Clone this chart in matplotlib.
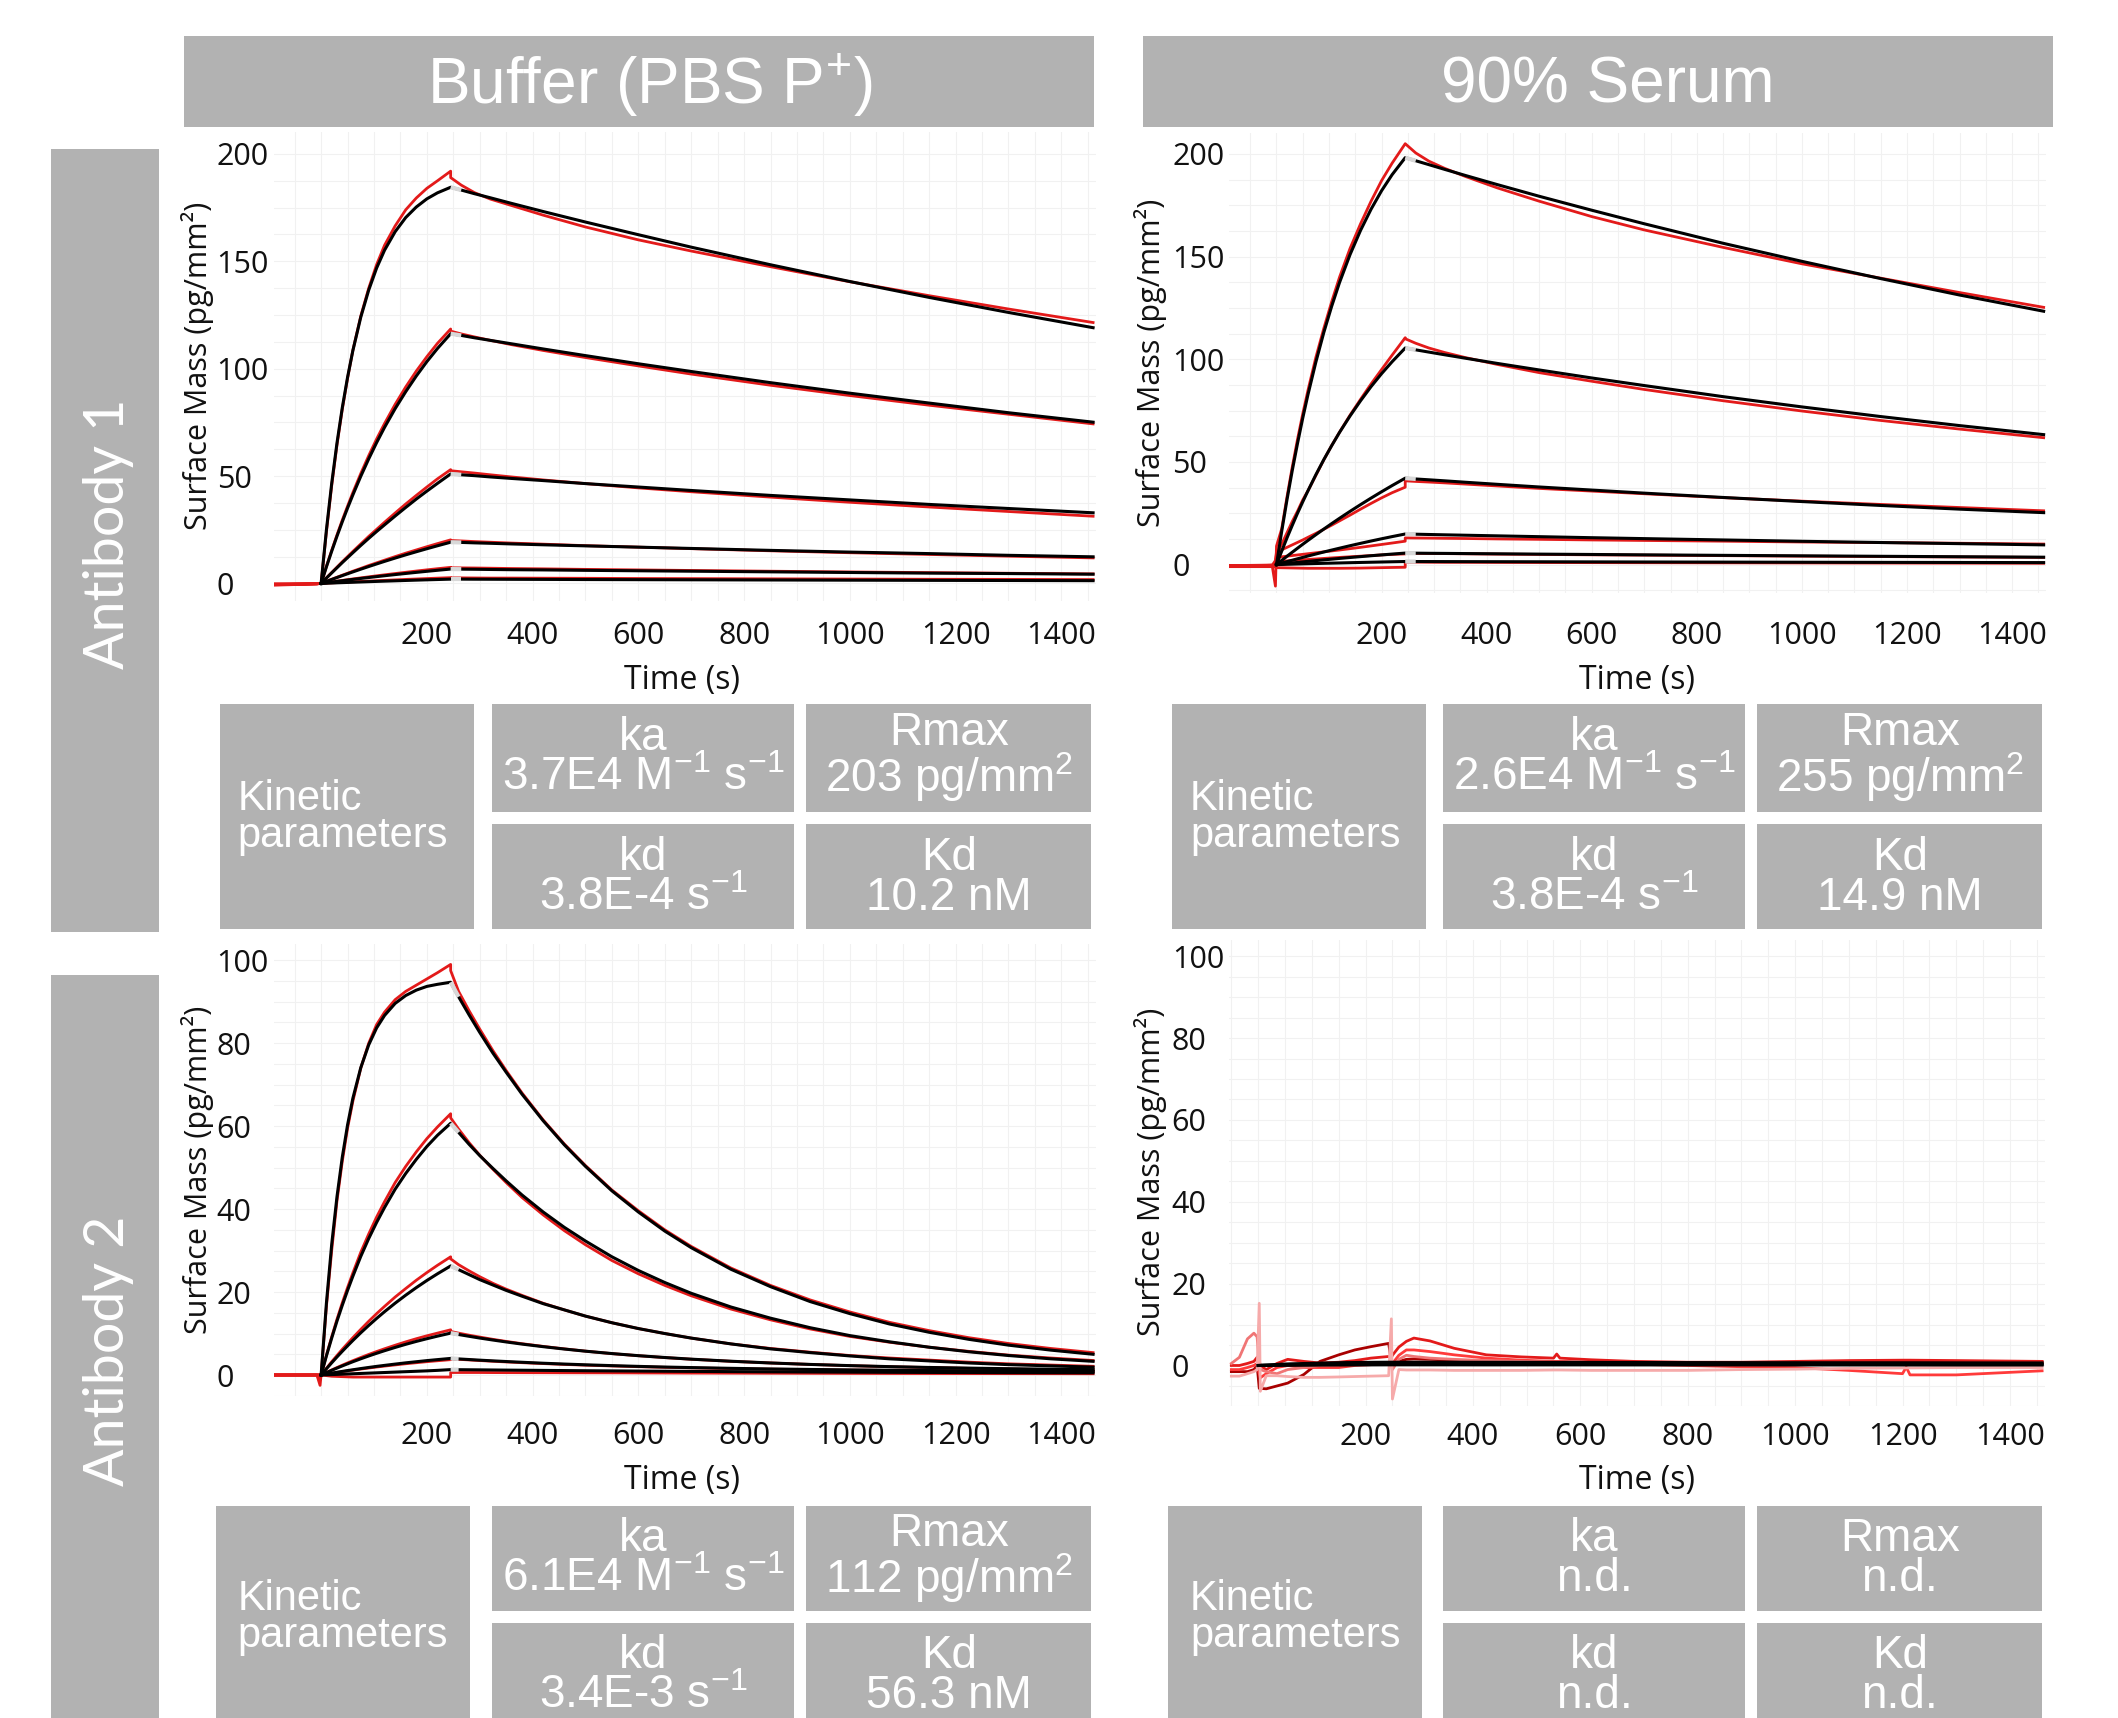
import matplotlib
matplotlib.use("Agg")
import matplotlib.pyplot as plt
from matplotlib.patches import Rectangle
from matplotlib.ticker import MultipleLocator

plt.rcParams["mathtext.fontset"] = "custom"
plt.rcParams["mathtext.rm"] = "Liberation Sans"
plt.rcParams["mathtext.default"] = "regular"

# ---------------- data ----------------
T_BASE = [-90, -60, -30, -8, -2]
T_ASSOC = [0, 10, 20, 30, 40, 50, 60, 75, 90, 105, 120, 140, 160, 180, 200, 220, 245]
T_DISS = [245, 265, 290, 320, 360, 420, 500, 600, 700, 850, 1000, 1150, 1300, 1460]
T_DISS_BL = [245, 260, 280, 300, 325, 350, 380, 420, 460, 500, 550, 600, 650, 700,
             775, 850, 925, 1000, 1075, 1150, 1225, 1300, 1380, 1460]

# Antibody 1, buffer
tl_fit_assoc = [
    [0, 24.9, 46.6, 65.4, 81.8, 96.0, 108.4, 124.0, 136.6, 146.9, 155.2, 163.8, 170.4, 175.3, 179.1, 181.9, 184.5],
    [0, 7.7, 15.0, 22.0, 28.7, 35.1, 41.2, 49.9, 58.0, 65.6, 72.7, 81.4, 89.3, 96.6, 103.3, 109.4, 116.3],
    [0, 2.5, 4.9, 7.3, 9.7, 12.0, 14.3, 17.7, 21.0, 24.2, 27.3, 31.4, 35.4, 39.3, 43.0, 46.6, 51.0],
    [0, 0.93, 1.85, 2.75, 3.63, 4.51, 5.37, 6.64, 7.88, 9.09, 10.28, 11.82, 13.32, 14.76, 16.17, 17.54, 19.2],
    [0, 0.32, 0.65, 0.96, 1.27, 1.58, 1.88, 2.32, 2.75, 3.18, 3.59, 4.13, 4.65, 5.16, 5.65, 6.13, 6.7],
    [0, 0.1, 0.19, 0.29, 0.38, 0.47, 0.56, 0.69, 0.82, 0.95, 1.07, 1.23, 1.39, 1.54, 1.69, 1.83, 2.0],
]
tl_fit_diss = [
    [184.5, 183.2, 181.5, 179.6, 177.0, 173.2, 168.3, 162.4, 156.6, 148.4, 140.6, 133.2, 126.2, 119.1],
    [116.3, 115.5, 114.4, 113.2, 111.6, 109.2, 106.1, 102.3, 98.7, 93.5, 88.6, 84.0, 79.5, 75.1],
    [51.0, 50.6, 50.2, 49.6, 48.9, 47.9, 46.5, 44.9, 43.3, 41.0, 38.9, 36.8, 34.9, 32.9],
    [19.2, 19.1, 18.9, 18.7, 18.4, 18.0, 17.5, 16.9, 16.3, 15.4, 14.6, 13.9, 13.1, 12.4],
    [6.7, 6.65, 6.6, 6.5, 6.4, 6.3, 6.1, 5.9, 5.7, 5.4, 5.1, 4.8, 4.6, 4.3],
    [2.0, 2.0, 1.97, 1.95, 1.92, 1.88, 1.82, 1.76, 1.7, 1.61, 1.52, 1.44, 1.37, 1.29],
]
tl_data_base = [
    [-0.8, -0.6, -0.4, -0.2, 0.0],
    [-0.6, -0.5, -0.4, -0.2, 0.0],
    [-0.5, -0.4, -0.3, -0.2, 0.0],
    [-0.4, -0.3, -0.2, -0.1, 0.0],
    [-0.3, -0.3, -0.2, -0.1, 0.0],
    [-0.2, -0.2, -0.1, 0.0, 0.0],
]
tl_data_assoc = [
    [0, 24, 45.5, 64.5, 81, 95.5, 108.5, 124.5, 137.5, 148.5, 157.5, 166.5, 174, 179.5, 184, 187.5, 192],
    [0, 7.9, 15.4, 22.6, 29.5, 36, 42.3, 51.2, 59.5, 67.3, 74.5, 83.4, 91.5, 98.9, 105.6, 111.8, 118.5],
    [0, 2.6, 5.1, 7.6, 10.1, 12.5, 14.9, 18.4, 21.9, 25.2, 28.5, 32.8, 37.0, 41.0, 44.9, 48.7, 53.0],
    [0, 1.0, 1.95, 2.9, 3.85, 4.75, 5.7, 7.0, 8.35, 9.6, 10.85, 12.5, 14.1, 15.6, 17.1, 18.55, 20.3],
    [0, 0.36, 0.72, 1.08, 1.42, 1.77, 2.1, 2.6, 3.08, 3.56, 4.02, 4.62, 5.2, 5.78, 6.33, 6.87, 7.5],
    [0, 0.13, 0.26, 0.39, 0.51, 0.64, 0.76, 0.93, 1.1, 1.28, 1.44, 1.66, 1.88, 2.08, 2.28, 2.47, 2.7],
]
tl_data_diss = [
    [189, 185.5, 182, 179, 176, 171.5, 166, 160, 154.8, 147.5, 140.5, 134, 127.8, 121.5],
    [117.5, 116.2, 114.8, 113.2, 111.2, 108.5, 105.2, 101.3, 97.5, 92.3, 87.5, 83, 78.8, 74.3],
    [52.5, 52, 51.4, 50.6, 49.6, 48.2, 46.5, 44.5, 42.7, 40.2, 37.8, 35.6, 33.5, 31.3],
    [20, 19.8, 19.5, 19.2, 18.8, 18.3, 17.6, 16.9, 16.2, 15.2, 14.3, 13.5, 12.7, 11.9],
    [7.3, 7.25, 7.2, 7.1, 6.95, 6.8, 6.55, 6.3, 6.05, 5.7, 5.35, 5.05, 4.75, 4.45],
    [2.6, 2.6, 2.55, 2.5, 2.5, 2.45, 2.4, 2.3, 2.25, 2.15, 2.05, 1.95, 1.9, 1.8],
]

# Antibody 1, 90% serum
tr_fit_assoc = [
    [0, 16.3, 31.6, 45.8, 59.0, 71.4, 82.9, 98.7, 113.0, 125.8, 137.4, 151.0, 162.8, 173.1, 182.1, 189.9, 198.2],
    [0, 6.6, 13.0, 19.1, 25.0, 30.6, 36.0, 43.8, 51.1, 57.9, 64.4, 72.4, 79.8, 86.7, 93.0, 98.8, 105.5],
    [0, 2.04, 4.05, 6.02, 7.97, 9.9, 11.79, 14.57, 17.29, 19.95, 22.55, 25.93, 29.21, 32.39, 35.48, 38.48, 42.1],
    [0, 0.72, 1.44, 2.13, 2.82, 3.51, 4.18, 5.16, 6.13, 7.07, 7.99, 9.19, 10.35, 11.48, 12.57, 13.63, 14.9],
    [0, 0.27, 0.54, 0.8, 1.06, 1.32, 1.57, 1.94, 2.3, 2.65, 3.0, 3.45, 3.88, 4.31, 4.72, 5.12, 5.6],
    [0, 0.07, 0.14, 0.21, 0.28, 0.35, 0.42, 0.52, 0.62, 0.71, 0.8, 0.92, 1.04, 1.15, 1.26, 1.37, 1.5],
]
tr_fit_diss = [
    [198.2, 196.7, 194.8, 192.5, 189.5, 185.1, 179.4, 172.6, 166.0, 156.5, 147.7, 139.3, 131.3, 123.4],
    [105.5, 104.6, 103.5, 102.2, 100.5, 98.0, 94.8, 90.9, 87.2, 81.8, 76.8, 72.1, 67.7, 63.3],
    [42.1, 41.7, 41.3, 40.8, 40.1, 39.1, 37.8, 36.3, 34.8, 32.7, 30.7, 28.8, 27.0, 25.3],
    [14.9, 14.8, 14.66, 14.5, 14.3, 14.0, 13.6, 13.1, 12.65, 12.0, 11.35, 10.75, 10.2, 9.6],
    [5.6, 5.56, 5.5, 5.45, 5.37, 5.26, 5.1, 4.93, 4.75, 4.5, 4.27, 4.04, 3.83, 3.6],
    [1.5, 1.49, 1.48, 1.46, 1.44, 1.41, 1.37, 1.32, 1.27, 1.21, 1.14, 1.08, 1.03, 0.97],
]
tr_data_base = [
    [-0.5, -0.5, -0.5, -0.8, -10.5],
    [-0.8, -0.8, -0.6, -0.5, 0.0],
    [-0.6, -0.6, -0.5, -0.3, 2.0],
    [-0.4, -0.4, -0.3, -0.2, 1.0],
    [-0.7, -0.7, -0.6, -0.5, 0.0],
    [-1.0, -1.0, -1.0, -1.0, -1.2],
]
tr_data_assoc = [
    [9, 17.5, 33, 47.5, 61, 73.5, 85, 101, 115, 128, 140, 154, 166, 177, 187, 195.5, 205],
    [5, 10, 15.5, 21, 26, 31.5, 36, 43.5, 51, 58, 64.5, 72.8, 80.5, 88, 95, 102, 110.5],
    [6, 7.2, 8.4, 9.6, 10.8, 12.0, 13.3, 15.2, 17.2, 19.2, 21.3, 24.1, 27, 29.8, 32.5, 35, 37.7],
    [3.5, 3.8, 4.1, 4.4, 4.7, 5.0, 5.3, 5.75, 6.2, 6.65, 7.1, 7.75, 8.4, 9.1, 9.8, 10.5, 11.4],
    [1.5, 1.65, 1.8, 2.0, 2.2, 2.35, 2.5, 2.75, 3.0, 3.25, 3.5, 3.8, 4.1, 4.4, 4.7, 4.95, 5.2],
    [-1.5, -1.55, -1.6, -1.65, -1.7, -1.75, -1.8, -1.8, -1.8, -1.8, -1.8, -1.75, -1.7, -1.6, -1.5, -1.4, -1.3],
]
tr_data_diss = [
    [205, 200.5, 196.5, 193, 189, 183.5, 177, 169.5, 163, 154.5, 146.5, 139.5, 132.5, 125.3],
    [110, 107.8, 105.5, 103.3, 100.8, 97.5, 93.5, 89.3, 85.3, 79.8, 74.8, 70.2, 66, 61.8],
    [40.8, 40.5, 40.2, 39.8, 39.2, 38.3, 37.1, 35.8, 34.5, 32.6, 30.9, 29.3, 27.8, 26.2],
    [13.0, 12.95, 12.9, 12.8, 12.7, 12.5, 12.3, 12.0, 11.75, 11.4, 11.0, 10.7, 10.4, 10.0],
    [5.5, 5.45, 5.4, 5.35, 5.25, 5.1, 4.95, 4.75, 4.6, 4.35, 4.1, 3.9, 3.7, 3.5],
    [1.2, 1.2, 1.15, 1.1, 1.1, 1.05, 1.0, 0.95, 0.9, 0.85, 0.8, 0.75, 0.7, 0.65],
]

# Antibody 2, buffer
bl_fit_assoc = [
    [0, 17.3, 31.5, 43.0, 52.5, 60.3, 66.7, 74.1, 79.6, 83.7, 86.7, 89.6, 91.5, 92.8, 93.7, 94.2, 94.7],
    [0, 4.6, 8.9, 13.0, 16.8, 20.4, 23.8, 28.6, 32.9, 36.8, 40.4, 44.8, 48.6, 52.0, 55.1, 57.8, 60.7],
    [0, 1.5, 2.94, 4.35, 5.71, 7.03, 8.32, 10.18, 11.95, 13.65, 15.27, 17.32, 19.25, 21.07, 22.79, 24.4, 26.3],
    [0, 0.57, 1.13, 1.67, 2.19, 2.7, 3.2, 3.91, 4.59, 5.24, 5.86, 6.65, 7.4, 8.1, 8.75, 9.37, 10.1],
    [0, 0.23, 0.45, 0.66, 0.87, 1.07, 1.26, 1.55, 1.82, 2.08, 2.32, 2.63, 2.93, 3.2, 3.47, 3.71, 4.0],
    [0, 0.05, 0.1, 0.15, 0.2, 0.25, 0.3, 0.375, 0.45, 0.525, 0.6, 0.7, 0.8, 0.9, 1.0, 1.12, 1.3],
]
bl_fit_diss = [
    [94.7, 91.2, 86.8, 82.6, 77.6, 73.0, 67.7, 61.3, 55.5, 50.3, 44.4, 39.3, 34.7, 30.7,
     25.5, 21.3, 17.7, 14.8, 12.3, 10.3, 8.6, 7.2, 6.0, 5.0],
    [60.7, 58.5, 55.6, 52.9, 49.8, 46.8, 43.4, 39.3, 35.6, 32.3, 28.5, 25.2, 22.3, 19.7,
     16.4, 13.7, 11.4, 9.5, 8.0, 6.7, 5.6, 4.7, 3.9, 3.3],
    [26.3, 25.4, 24.2, 23.0, 21.7, 20.4, 19.0, 17.2, 15.7, 14.2, 12.6, 11.2, 10.0, 8.9,
     7.5, 6.3, 5.4, 4.6, 3.9, 3.4, 2.9, 2.5, 2.2, 1.9],
    [10.1, 9.76, 9.33, 8.91, 8.43, 7.97, 7.45, 6.83, 6.26, 5.74, 5.17, 4.66, 4.22, 3.82,
     3.32, 2.9, 2.55, 2.26, 2.02, 1.82, 1.66, 1.52, 1.4, 1.3],
    [4.0, 3.88, 3.73, 3.58, 3.41, 3.25, 3.07, 2.84, 2.64, 2.46, 2.26, 2.08, 1.92, 1.79,
     1.61, 1.46, 1.34, 1.23, 1.15, 1.08, 1.02, 0.97, 0.93, 0.9],
    [1.3, 1.28, 1.26, 1.24, 1.21, 1.18, 1.15, 1.11, 1.07, 1.03, 0.99, 0.95, 0.91, 0.87,
     0.82, 0.77, 0.73, 0.69, 0.65, 0.62, 0.59, 0.56, 0.54, 0.52],
]
bl_data_base = [
    [0, 0, 0, 0, -2.5],
    [0, 0, 0, 0, -1.0],
    [0, 0, 0, 0, 0],
    [0, 0, 0, 0, 0],
    [0, 0, 0, 0, 0],
    [0, 0, 0, 0, 0],
]
bl_data_assoc = [
    [0, 16.5, 30, 42, 51.5, 59.5, 66, 74, 80, 84.5, 87.5, 90.5, 92.5, 94, 95.5, 97, 99],
    [0, 4.75, 9.2, 13.45, 17.4, 21.1, 24.6, 29.6, 34.0, 38.1, 41.8, 46.4, 50.3, 53.8, 57.0, 59.8, 63.0],
    [0, 1.6, 3.2, 4.7, 6.2, 7.6, 9.0, 11.0, 12.95, 14.8, 16.55, 18.8, 20.85, 22.85, 24.7, 26.45, 28.5],
    [0, 0.62, 1.22, 1.8, 2.37, 2.92, 3.45, 4.22, 4.96, 5.66, 6.33, 7.18, 7.99, 8.75, 9.45, 10.1, 10.9],
    [0, 0.21, 0.42, 0.61, 0.8, 0.99, 1.17, 1.43, 1.68, 1.92, 2.15, 2.43, 2.71, 2.96, 3.21, 3.43, 3.7],
    [0, -0.15, -0.3, -0.35, -0.4, -0.45, -0.5, -0.5, -0.5, -0.5, -0.5, -0.5, -0.5, -0.5, -0.5, -0.5, -0.5],
]
bl_data_diss = [
    [97.5, 92.5, 87.8, 83.4, 78.2, 73.4, 68, 61.5, 55.7, 50.5, 44.6, 39.6, 35.0, 31.0,
     25.8, 21.6, 18.1, 15.2, 12.7, 10.7, 9.0, 7.6, 6.4, 5.4],
    [62, 59.3, 56.0, 53.0, 49.6, 46.4, 42.8, 38.6, 34.8, 31.4, 27.6, 24.4, 21.6, 19.1,
     15.9, 13.3, 11.1, 9.3, 7.9, 6.7, 5.7, 4.8, 4.1, 3.5],
    [28, 26.6, 25.1, 23.7, 22.1, 20.7, 19.2, 17.3, 15.7, 14.2, 12.6, 11.2, 10.0, 8.9,
     7.5, 6.4, 5.5, 4.7, 4.1, 3.6, 3.1, 2.7, 2.4, 2.1],
    [10.5, 10.1, 9.6, 9.15, 8.6, 8.1, 7.55, 6.9, 6.3, 5.75, 5.15, 4.65, 4.2, 3.8,
     3.3, 2.9, 2.55, 2.25, 2.0, 1.8, 1.6, 1.45, 1.3, 1.2],
    [3.9, 3.78, 3.63, 3.48, 3.31, 3.15, 2.97, 2.75, 2.55, 2.37, 2.18, 2.0, 1.85, 1.72,
     1.55, 1.41, 1.29, 1.19, 1.11, 1.04, 0.98, 0.93, 0.89, 0.85],
    [0.6, 0.6, 0.6, 0.6, 0.58, 0.57, 0.56, 0.55, 0.54, 0.53, 0.52, 0.5, 0.48, 0.46,
     0.44, 0.42, 0.4, 0.38, 0.36, 0.35, 0.34, 0.33, 0.32, 0.3],
]

# Antibody 2, 90% serum (no measurable binding)
T_BR = [-50, -35, -20, -8, -2, 2, 4, 15, 35, 55, 85, 115, 150, 180, 210, 243, 248, 250,
        262, 276, 290, 320, 365, 425, 490, 550, 556, 562, 620, 700, 800, 900, 1000,
        1100, 1200, 1207, 1214, 1300, 1460]
br_data = [
    [-1.5, -1.5, -1.5, -1.0, 0.0, -5.6, -5.6, -5.7, -5.0, -4.3, -2.2, 1.0, 2.6, 3.8, 4.6, 5.4,
     1.0, 0.5, 1.0, 1.5, 1.6, 1.5, 1.3, 1.1, 1.0, 0.9, 0.9, 0.9, 0.8, 0.7, 0.6, 0.6, 0.6,
     0.7, 0.8, 0.8, 0.8, 0.8, 0.8],
    [0, 0, 0.5, 1.0, 2.0, 1.0, 0.0, -1.0, 0.5, 1.5, 1.0, 0.6, 0.8, 1.2, 1.8, 2.2, 2.0, 2.5,
     4.5, 5.9, 6.7, 6.0, 4.2, 2.6, 2.1, 1.8, 2.8, 1.8, 1.4, 1.0, 0.8, 0.8, 1.0, 1.2, 1.3,
     1.3, 1.3, 1.2, 1.0],
    [-1.0, -1.0, -0.5, 0.0, 0.5, -2.0, -3.0, -2.0, -0.5, 0.0, -0.5, -0.5, -0.5, 0.0, 0.2,
     0.5, 0.5, 0.5, 2.5, 3.8, 3.8, 3.4, 2.6, 1.8, 1.3, 1.0, 1.0, 1.0, 0.6, 0.3, 0.0, -0.3,
     -0.5, -1.2, -2.0, -0.4, -2.3, -2.3, -1.3],
    [0.5, 2.0, 6.5, 7.9, 7.0, 0.0, -1.0, -1.5, -2.0, -1.0, -0.5, 0.0, 0.2, 0.3, 0.4, 0.5,
     0.0, -1.0, 1.5, 2.5, 2.2, 1.8, 1.5, 1.2, 1.0, 0.8, 0.8, 0.8, 0.6, 0.4, 0.3, 0.2, 0.2,
     0.3, 0.3, 0.3, 0.3, 0.3, 0.3],
    [-2.6, -2.6, -2.0, -1.5, -1.0, 15.2, -6.3, -2.5, -2.5, -2.7, -2.9, -2.9, -2.8, -2.7,
     -2.6, -2.5, 11.4, -8.2, -1.0, -1.1, -1.1, -1.1, -1.2, -1.2, -1.2, -1.1, -1.1, -1.1,
     -1.2, -1.2, -1.2, -1.0, -0.9, -0.7, -0.6, -0.6, -0.6, -0.5, -0.5],
]
br_colors = ["#a80000", "#e31a1a", "#ff3a3a", "#f07575", "#f6aaaa"]
br_fit_assoc = [
    [0, 0.08, 0.15, 0.22, 0.3, 0.35, 0.4, 0.45, 0.5, 0.55, 0.6, 0.65, 0.7, 0.72, 0.75, 0.78, 0.8],
    [0, 0.04, 0.05, 0.08, 0.1, 0.12, 0.15, 0.18, 0.2, 0.22, 0.25, 0.28, 0.3, 0.32, 0.35, 0.38, 0.4],
    [0, 0.01, 0.02, 0.03, 0.04, 0.05, 0.06, 0.07, 0.08, 0.09, 0.1, 0.11, 0.12, 0.13, 0.14, 0.15, 0.16],
]
br_fit_diss = [
    [0.8, 0.8, 0.8, 0.8, 0.8, 0.78, 0.77, 0.75, 0.73, 0.7, 0.68, 0.66, 0.64, 0.62],
    [0.4, 0.4, 0.4, 0.4, 0.4, 0.39, 0.38, 0.37, 0.36, 0.35, 0.34, 0.33, 0.32, 0.31],
    [0.16, 0.16, 0.16, 0.16, 0.16, 0.15, 0.15, 0.15, 0.14, 0.14, 0.13, 0.13, 0.12, 0.12],
]

conditions = ["Buffer (PBS P$^{+}$)", "90% Serum"]
antibodies = ["Antibody 1", "Antibody 2"]
param_names = ["ka", "Rmax", "kd", "Kd"]
tl_params = ["3.7E4 M$^{-1}$ s$^{-1}$", "203 pg/mm$^{2}$", "3.8E-4 s$^{-1}$", "10.2 nM"]
tr_params = ["2.6E4 M$^{-1}$ s$^{-1}$", "255 pg/mm$^{2}$", "3.8E-4 s$^{-1}$", "14.9 nM"]
bl_params = ["6.1E4 M$^{-1}$ s$^{-1}$", "112 pg/mm$^{2}$", "3.4E-3 s$^{-1}$", "56.3 nM"]
br_params = ["n.d.", "n.d.", "n.d.", "n.d."]

x_ticks = [200, 400, 600, 800, 1000, 1200, 1400]

# ---------------- layout helpers (reference pixel grid 1568 x 1272) ----------------
REF_W, REF_H = 1568.0, 1272.0
GRAY = "#b2b2b2"
RED = "#e31a1a"
AX_FONT = "Open Sans"
BOX_FONT = "Liberation Sans"

fig = plt.figure(figsize=(21.18, 17.18), dpi=100)


def fx(x):
    return x / REF_W


def fy(y):
    return 1 - y / REF_H


def gray_box(x0, y0, x1, y1):
    fig.patches.append(Rectangle((fx(x0), fy(y1)), fx(x1) - fx(x0), fy(y0) - fy(y1),
                                 transform=fig.transFigure, facecolor=GRAY,
                                 edgecolor="none", zorder=0))


def panel(x0, y0, x1, y1, xlim, ylim, yticks, xpad, ymin_step):
    ax = fig.add_axes([fx(x0), fy(y1), fx(x1) - fx(x0), fy(y0) - fy(y1)])
    ax.set_facecolor("none")
    ax.set_xlim(*xlim)
    ax.set_ylim(*ylim)
    for s in ax.spines.values():
        s.set_visible(False)
    ax.set_xticks(x_ticks)
    ax.set_yticks(yticks)
    ax.xaxis.set_minor_locator(MultipleLocator(50))
    ax.yaxis.set_minor_locator(MultipleLocator(ymin_step))
    ax.grid(True, which="both", color="#f1f1f1", lw=0.8, zorder=0)
    ax.tick_params(which="both", length=0)
    ax.tick_params(axis="x", pad=xpad, labelsize=22, labelcolor="#111111")
    ax.tick_params(axis="y", pad=41, labelsize=22, labelcolor="#111111")
    for lab in ax.get_xticklabels() + ax.get_yticklabels():
        lab.set_fontfamily(AX_FONT)
    for lab in ax.get_yticklabels():
        lab.set_horizontalalignment("left")
    return ax


def draw_kinetics(ax, t_diss, fit_a, fit_d, data_b, data_a, data_d):
    for b, a, d in zip(data_b, data_a, data_d):
        ax.plot(T_BASE + T_ASSOC + t_diss, b + a + d, color=RED, lw=2.0, zorder=2)
    for a, d in zip(fit_a, fit_d):
        ax.plot(T_ASSOC + t_diss[1:], a + d[1:], color="black", lw=2.2, zorder=3)
        ax.plot(t_diss[:2], d[:2], color="#d8d8d8", lw=3.0, zorder=4,
                solid_capstyle="butt")


def param_table(xk, xa, xb, y0, ymid1, ymid2, y1, values, text_x):
    gray_box(xk[0], y0, xk[1], y1)
    row_h = ymid1 - y0
    cells = [(xa, (y0, ymid1)), (xb, (y0, ymid1)), (xa, (ymid2, y1)), (xb, (ymid2, y1))]
    for (cx, cy), name, val in zip(cells, param_names, values):
        gray_box(cx[0], cy[0], cx[1], cy[1])
        yc = cy[0] + row_h / 2
        fig.text(fx((cx[0] + cx[1]) / 2), fy(yc), name + "\n" + val, ha="center",
                 va="center", color="white", fontsize=33, family=BOX_FONT,
                 linespacing=0.88, zorder=5)
    kc = y0 + (2 * row_h + ymid2 - ymid1) / 2
    fig.text(fx(text_x), fy(kc), "Kinetic\nparameters", ha="left", va="center",
             color="white", fontsize=30, family=BOX_FONT, linespacing=0.9, zorder=5)


# ---------------- headers and row labels ----------------
gray_box(136, 27, 810, 94)
gray_box(846, 27, 1520, 94)
fig.text(fx(481), fy(63), conditions[0], ha="center", va="center", color="white",
         fontsize=46, family=BOX_FONT)
fig.text(fx(1190), fy(63), conditions[1], ha="center", va="center", color="white",
         fontsize=46, family=BOX_FONT)

gray_box(38, 110, 118, 690)
gray_box(38, 722, 118, 1300)
fig.text(fx(80), fy(395), antibodies[0], rotation=90, ha="center", va="center",
         color="white", fontsize=40, family="Lato")
fig.text(fx(80), fy(1000), antibodies[1], rotation=90, ha="center", va="center",
         color="white", fontsize=40, family="Lato")

# ---------------- panels ----------------
ax_tl = panel(202.5, 98.1, 811.2, 444.7, (-90, 1465), (-8, 210), [0, 50, 100, 150, 200], 15, 12.5)
draw_kinetics(ax_tl, T_DISS, tl_fit_assoc, tl_fit_diss, tl_data_base, tl_data_assoc, tl_data_diss)

ax_tr = panel(910.0, 98.8, 1514.9, 439.3, (-90, 1465), (-14, 210), [0, 50, 100, 150, 200], 20, 12.5)
draw_kinetics(ax_tr, T_DISS, tr_fit_assoc, tr_fit_diss, tr_data_base, tr_data_assoc, tr_data_diss)

ax_bl = panel(202.5, 698.7, 811.2, 1033.4, (-90, 1465), (-5, 104), [0, 20, 40, 60, 80, 100], 18, 5)
draw_kinetics(ax_bl, T_DISS_BL, bl_fit_assoc, bl_fit_diss, bl_data_base, bl_data_assoc, bl_data_diss)

ax_br = panel(909.6, 695.9, 1513.8, 1041.3, (-55, 1465), (-10, 104), [0, 20, 40, 60, 80, 100], 11, 5)
for vals, col in zip(br_data, br_colors):
    ax_br.plot(T_BR, vals, color=col, lw=2.0, zorder=2)
for a, d in zip(br_fit_assoc, br_fit_diss):
    ax_br.plot(T_ASSOC + T_DISS[1:], a + d[1:], color="black", lw=2.2, zorder=3)

# axis titles
for xc, yc in [(505, 504), (1212, 504), (505, 1096), (1212, 1096)]:
    fig.text(fx(xc), fy(yc), "Time (s)", ha="center", va="center", fontsize=23,
             family=AX_FONT, color="#111111")
for xc, yc in [(146, 271), (852, 269), (146, 866), (852, 868)]:
    fig.text(fx(xc), fy(yc), "Surface Mass (pg/mm²)", rotation=90, ha="center",
             va="center", fontsize=22, family=AX_FONT, color="#111111")

# ---------------- kinetic parameter tables ----------------
param_table((163, 351), (364, 588), (597, 808), 521, 601, 610, 688, tl_params, 176)
param_table((868, 1056), (1068, 1292), (1301, 1512), 521, 601, 610, 688, tr_params, 881)
param_table((160, 348), (364, 588), (597, 808), 1115, 1193, 1202, 1300, bl_params, 176)
param_table((865, 1053), (1068, 1292), (1301, 1512), 1115, 1193, 1202, 1300, br_params, 881)

fig.savefig("out.png", dpi=100)
